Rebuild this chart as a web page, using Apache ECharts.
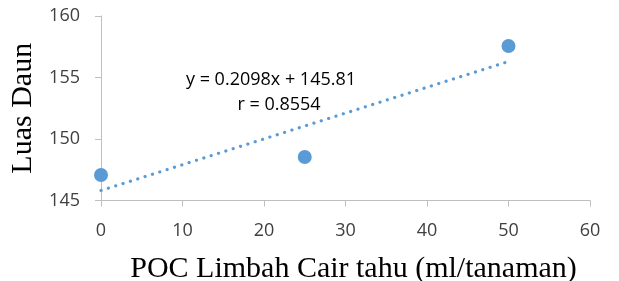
<!DOCTYPE html>
<html>
<head>
<meta charset="utf-8">
<script src="https://cdn.jsdelivr.net/npm/echarts@6/dist/echarts.min.js"></script>
<style>
  html, body { margin: 0; padding: 0; background: #fff; }
  #chart { width: 619px; height: 281px; }
</style>
</head>
<body>
<div id="chart"></div>
<script>
  // data
  var pocX = [0, 25, 50];
  var luasDaun = [147.07, 148.54, 157.56];
  // linear trendline y = 0.2098x + 145.81, drawn over the data range
  var trendX = [0, 50];
  var trendY = [145.81, 156.30];
  var eqText = 'y = 0.2098x + 145.81';
  var rText = 'r = 0.8554';

  var blue = '#5B9BD5';
  var axisGrey = '#BFBFBF';
  var labelFont = '"Open Sans", "Liberation Sans", sans-serif';

  var chart = echarts.init(document.getElementById('chart'));
  chart.setOption({
    animation: false,
    grid: { left: 101, right: 29, top: 16, bottom: 80.5, outerBoundsMode: 'none', containLabel: false },
    xAxis: {
      type: 'value',
      min: 0, max: 60, interval: 10,
      name: 'POC Limbah Cair tahu (ml/tanaman)',
      nameLocation: 'middle',
      nameGap: 54,
      nameTextStyle: { fontFamily: '"Liberation Serif", serif', fontSize: 30, color: '#000', padding: [0, 0, 0, 16] },
      axisLine: { show: true, lineStyle: { color: axisGrey, width: 1 } },
      axisTick: { show: true, length: 6, lineStyle: { color: axisGrey } },
      axisLabel: { margin: 21, fontFamily: labelFont, fontSize: 18, color: '#404040' },
      splitLine: { show: false }
    },
    yAxis: {
      type: 'value',
      min: 145, max: 160, interval: 5,
      name: 'Luas Daun',
      nameLocation: 'middle',
      nameGap: 62,
      nameTextStyle: { fontFamily: '"Liberation Serif", serif', fontSize: 30, color: '#000' },
      axisLine: { show: true, lineStyle: { color: axisGrey, width: 1 } },
      axisTick: { show: true, length: 6, lineStyle: { color: axisGrey } },
      axisLabel: { margin: 21, fontFamily: labelFont, fontSize: 18, color: '#404040' },
      splitLine: { show: false }
    },
    graphic: [
      {
        type: 'text',
        style: { text: eqText, x: 271, y: 80, align: 'center', verticalAlign: 'middle',
                 font: '18px ' + labelFont, fill: '#000' }
      },
      {
        type: 'text',
        style: { text: rText, x: 279, y: 105, align: 'center', verticalAlign: 'middle',
                 font: '18px ' + labelFont, fill: '#000' }
      }
    ],
    series: [
      {
        type: 'line',
        data: trendX.map(function (x, i) { return [x, trendY[i]]; }),
        symbol: 'none',
        lineStyle: { color: blue, width: 3.2, type: [0.1, 7.6], cap: 'round' },
        z: 1
      },
      {
        type: 'scatter',
        data: pocX.map(function (x, i) { return [x, luasDaun[i]]; }),
        symbolSize: 14,
        itemStyle: { color: blue, opacity: 1 },
        z: 2
      }
    ]
  });
</script>
</body>
</html>
